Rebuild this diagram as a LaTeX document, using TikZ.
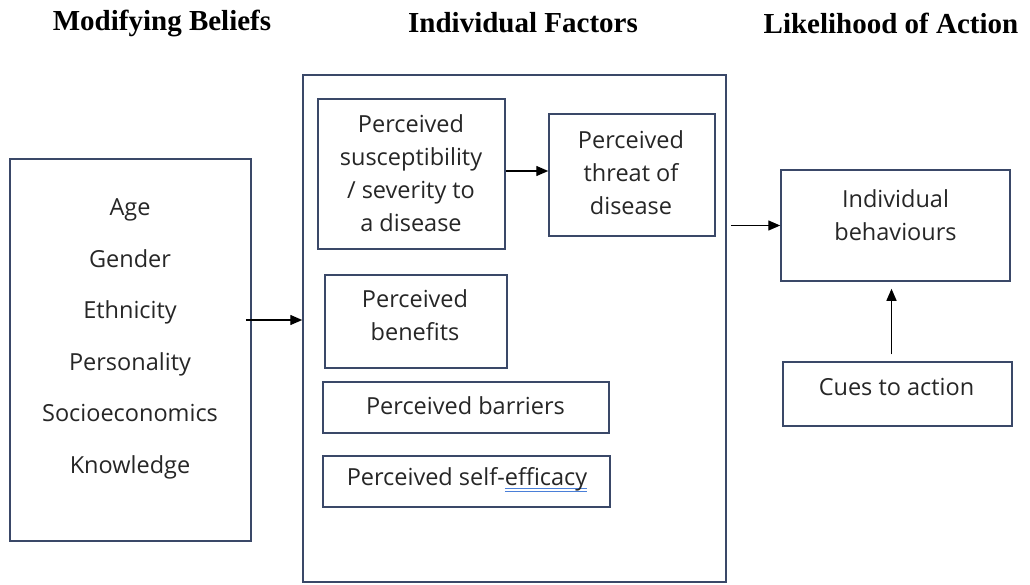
\documentclass[tikz,border=0pt]{standalone}
\usepackage{fontspec}
\setmainfont{Liberation Serif}
\setsansfont{Open Sans}
\usetikzlibrary{arrows.meta, positioning}
\definecolor{cline}{HTML}{3A4868}
\definecolor{ctext}{HTML}{262626}
\definecolor{cspell}{HTML}{4A7FD8}
\newcommand{\spellmark}[1]{\setbox0\hbox{#1}\rlap{\color{cspell}\rule[-3pt]{\wd0}{1.1pt}}\rlap{\color{cspell}\rule[-6pt]{\wd0}{1.1pt}}\box0}
\tikzset{
  every picture/.style={font=\sffamily, line width=1.4pt},
  box/.style={draw=cline, line width=1.5pt, inner sep=0pt},
  arrow/.style={-{Triangle[length=12pt, width=10pt]}, draw=black, line width=1.4pt},
  title/.style={font=\rmfamily\bfseries\fontsize{29}{34}\selectfont, text=black},
  txt/.style={font=\sffamily\fontsize{23.5}{33}\selectfont, text=ctext, align=center, inner sep=0pt},
}

\begin{document}
\begin{tikzpicture}[x=1pt, y=-1pt]
  \useasboundingbox (0,0) rectangle (1030,584);
  % headings
  \node[title] (hmod) at (162,23) {Modifying Beliefs};
  \node[title] (hind) at (523,23) {Individual Factors};
  \node[title] (hact) at (891,23) {Likelihood of Action};
  % (a) Modifying beliefs
  \node[box, minimum width=241, minimum height=382] (mod) at (130.5,350) {};
  \node[txt, font=\sffamily\fontsize{23.5}{51.5}\selectfont] (modtxt) at (130,339) {Age\\Gender\\Ethnicity\\Personality\\Socioeconomics\\Knowledge};
  % (b) Individual factors
  \node[box, minimum width=423, minimum height=507] (ind) at (514.5,328.5) {};
  \node[box, minimum width=187, minimum height=150] (susc) at (411.5,174) {};
  \node[txt] (susctxt) at (411,173) {Perceived\\susceptibility\\/ severity to\\a disease};
  \node[box, minimum width=166, minimum height=122] (threat) at (632,175) {};
  \node[txt] (threattxt) at (631,172.5) {Perceived\\threat of\\disease};
  \node[box, minimum width=182, minimum height=93] (benef) at (416,321.5) {};
  \node[txt] (beneftxt) at (415,315.5) {Perceived\\benefits};
  \node[box, minimum width=286, minimum height=51] (barr) at (466,407.5) {};
  \node[txt] (barrtxt) at (465.5,406) {Perceived barriers};
  \node[box, minimum width=287, minimum height=51] (selfeff) at (466.5,481.5) {};
  \node[txt] (selfefftxt) at (467,480) {Perceived self-\spellmark{efficacy}};
  % (c) Likelihood of action
  \node[box, minimum width=229, minimum height=111] (beh) at (895.5,225.5) {};
  \node[txt] (behtxt) at (895.5,215.5) {Individual\\behaviours};
  \node[box, minimum width=229, minimum height=64] (cues) at (897.5,394) {};
  \node[txt] (cuestxt) at (896.5,387) {Cues to action};
  % connectors
  \draw[arrow] ([xshift=-6pt, yshift=30pt]mod.east) -- ([yshift=30pt]mod.east -| ind.west);
  \draw[arrow] ([yshift=3pt]susc.east) -- ([yshift=3pt]susc.east -| threat.west);
  \draw[arrow, shorten <=4pt] (ind.east |- beh) -- (beh.west);
  \draw[arrow, shorten <=7pt, shorten >=7pt] ([xshift=-6pt]cues.north) -- ([xshift=-6pt]cues.north |- beh.south);
\end{tikzpicture}
\end{document}
